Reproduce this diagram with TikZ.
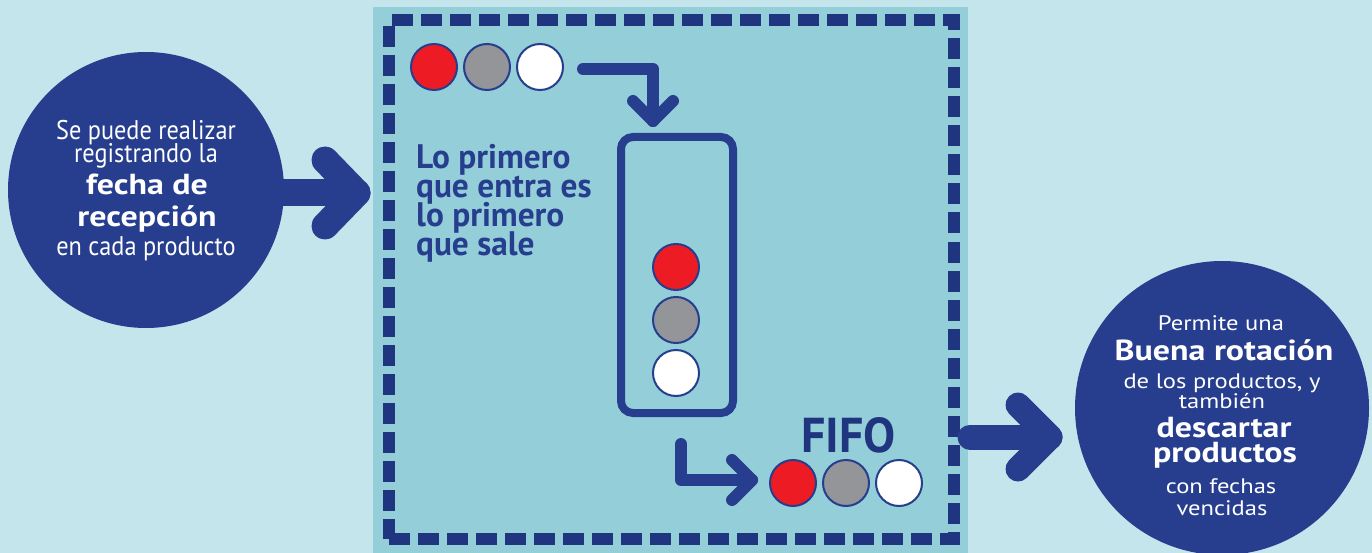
\documentclass[tikz,border=0pt]{standalone}
\usepackage{fontspec}
\setmainfont{PT Sans}
\newfontfamily\lregf{PT Sans}[FakeStretch=0.9]
\newfontfamily\boldwf{PT Sans}[FakeStretch=1.17]
\newfontfamily\rregf{PT Sans}[FakeStretch=1.17]
\newfontfamily\midf{PT Sans}[FakeStretch=0.98]
\definecolor{bgc}{HTML}{C3E5EB}
\definecolor{panelc}{HTML}{93CED9}
\definecolor{navy}{HTML}{263E8D}
\definecolor{dashc}{HTML}{1F3580}
\definecolor{redc}{HTML}{ED1C24}
\definecolor{greyc}{HTML}{939598}
\tikzset{
  bigcirc/.style={circle, fill=navy, inner sep=0pt},
  dot/.style={circle, draw=navy, line width=2pt, minimum size=46pt, inner sep=0pt},
  thinarr/.style={draw=navy, line width=12pt, line cap=round, line join=round},
  bigarr/.style={draw=navy, line width=27pt, line cap=round, line join=round},
  ltxt/.style={anchor=base, text=white, inner sep=0pt},
  lreg/.style={ltxt, font=\lregf\fontsize{27}{27}\selectfont},
  wbold/.style={ltxt, font=\boldwf\bfseries\fontsize{29}{29}\selectfont},
  rreg/.style={ltxt, font=\rregf\fontsize{21}{21}\selectfont},
  mtxt/.style={anchor=base west, text=navy, inner sep=0pt, font=\midf\bfseries\fontsize{34}{34}\selectfont},
}
\begin{document}
\begin{tikzpicture}[x=1pt,y=-1pt]
\fill[bgc] (0,0) rectangle (1372,553);
\useasboundingbox (0,0) rectangle (1372,553);
% middle panel
\fill[panelc] (373,7) rectangle (968,553);
\node[draw=dashc, line width=12pt, dash pattern=on 21pt off 8pt, minimum width=564.5pt, minimum height=518.5pt, inner sep=0pt] (panel) at (671.25,279.75) {};

% left circle
\node[bigcirc, minimum size=276pt] (lc) at (146,190) {};
\node[lreg] (l1) at (146,140) {Se puede realizar};
\node[lreg] (l2) at (146,163) {registrando la};
\node[wbold] (l3) at (147,195) {fecha de};
\node[wbold] (l4) at (147,227) {recepción};
\node[lreg] (l5) at (146,255) {en cada producto};

% left arrow
\coordinate (la1) at (272,193);
\coordinate (la2) at (357,193);
\draw[bigarr] (la1) -- (la2);
\draw[bigarr] (325,160) -- (la2) -- (325,226);

% right circle
\node[bigcirc, minimum size=294pt] (rc) at (1222,408) {};
\node[rreg] (r1) at (1221,330) {Permite una};
\node[wbold] (r2) at (1224,360) {Buena rotación};
\node[rreg] (r3) at (1222,388) {de los productos, y};
\node[rreg] (r4) at (1222,408) {también};
\node[wbold] (r5) at (1224,437) {descartar};
\node[wbold] (r6) at (1225,462) {productos};
\node[rreg] (r7) at (1221,493) {con fechas};
\node[rreg] (r8) at (1222,515) {vencidas};

% right arrow
\coordinate (ra1) at (970,437);
\coordinate (ra2) at (1050,437);
\draw[draw=navy, line width=25pt, line cap=round] (ra1) -- (ra2);
\draw[bigarr, line width=25pt] (1018,405) -- (ra2) -- (1018,469);

% top dots
\node[dot, fill=redc] (t1) at (434,67) {};
\node[dot, fill=greyc] (t2) at (487,67) {};
\node[dot, fill=white] (t3) at (540,67) {};

% tube
\node[draw=navy, line width=8pt, rounded corners=12pt, minimum width=112pt, minimum height=276pt, inner sep=0pt] (tube) at (677,275) {};
\node[dot, fill=redc] (m1) at (676,267) {};
\node[dot, fill=greyc] (m2) at (676,320) {};
\node[dot, fill=white] (m3) at (676,373) {};

% arrow top -> tube
\coordinate (a1s) at (583,69);
\coordinate (a1e) at (653,121);
\draw[thinarr] (a1s) -| (a1e);
\draw[thinarr] (633,101) -- (a1e) -- (673,101);

% arrow tube -> bottom
\coordinate (a2s) at (681,444);
\coordinate (a2e) at (752,480);
\draw[thinarr] (a2s) |- (a2e);
\draw[thinarr] (732,460) -- (a2e) -- (732,500);

% bottom dots
\node[dot, fill=redc] (b1) at (793,483) {};
\node[dot, fill=greyc] (b2) at (846,483) {};
\node[dot, fill=white] (b3) at (899,483) {};
\node[anchor=base, text=dashc, inner sep=0pt, font=\midf\bfseries\fontsize{49}{49}\selectfont] (fifo) at (848.5,452) {FIFO};

% middle text
\node[mtxt] (m1t) at (416,169) {Lo primero};
\node[mtxt] (m2t) at (416,198) {que entra es};
\node[mtxt] (m3t) at (416,227) {lo primero};
\node[mtxt] (m4t) at (416,255) {que sale};
\end{tikzpicture}
\end{document}
